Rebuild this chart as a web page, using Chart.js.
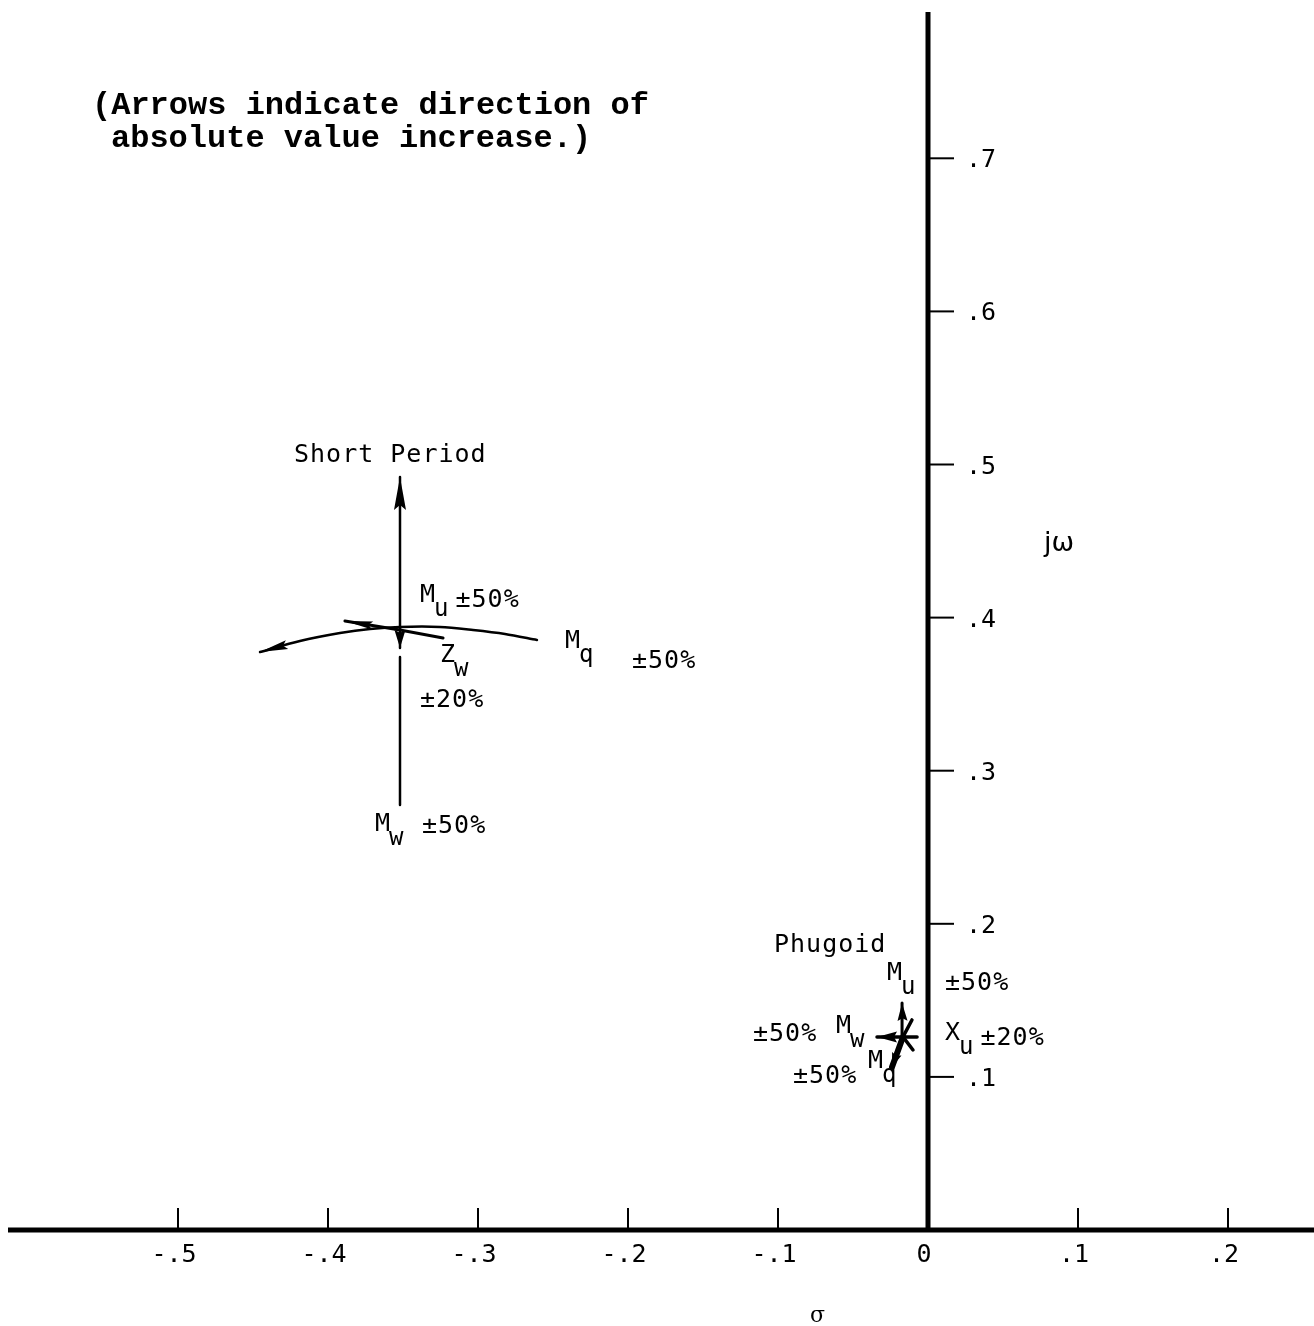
<!DOCTYPE html>
<html>
<head>
<meta charset="utf-8">
<script src="https://cdn.jsdelivr.net/npm/chart.js@4.4.1/dist/chart.umd.min.js"></script>
<style>
  html, body { margin: 0; padding: 0; background: #fff; }
  #wrap { width: 1314px; height: 1326px; position: relative; }
</style>
</head>
<body>
<div id="wrap"><canvas id="chart-1"></canvas></div>
<script>
// Axes (sigma / j omega)
const xTicks = [-0.5, -0.4, -0.3, -0.2, -0.1, 0, 0.1, 0.2];
const xTickLabels = ['-.5', '-.4', '-.3', '-.2', '-.1', '0', '.1', '.2'];
const yTicks = [0.1, 0.2, 0.3, 0.4, 0.5, 0.6, 0.7];
const yTickLabels = ['.1', '.2', '.3', '.4', '.5', '.6', '.7'];

// Short period root loci [sigma, j omega]
const spMu = [[-0.352, 0.3932], [-0.352, 0.4918]];
const spMwHead = [[-0.352, 0.3932], [-0.352, 0.3801]];
const spMw = [[-0.352, 0.3743], [-0.352, 0.2776]];
const spMq = [[-0.2607, 0.3854], [-0.282, 0.3893], [-0.3033, 0.3919], [-0.3253, 0.3939],
              [-0.352, 0.3939], [-0.372, 0.3926], [-0.392, 0.3899], [-0.4187, 0.3847], [-0.4453, 0.3775]];
const spZw = [[-0.3233, 0.3867], [-0.352, 0.3919], [-0.3887, 0.3978]];

// Phugoid root loci
const phMu = [[-0.0167, 0.1261], [-0.0173, 0.1483]];
const phMw = [[-0.0167, 0.1261], [-0.034, 0.1261]];
const phMq = [[-0.0167, 0.1261], [-0.024, 0.1065]];
const phXu = [[-0.0107, 0.1372], [-0.0167, 0.1261], [-0.0100, 0.1176]];
const phXu2 = [[-0.0167, 0.1261], [-0.0073, 0.1261]];

function locus(pts, width, arrow, tension) {
  return {
    data: pts.map(p => ({ x: p[0], y: p[1] })),
    showLine: true,
    borderColor: '#000',
    backgroundColor: '#000',
    borderWidth: width,
    borderCapStyle: 'round',
    pointRadius: 0,
    tension: tension || 0,
    arrow: arrow || null
  };
}

const monoFont = '"DejaVu Sans Mono", monospace';

// texte : [x, y, texte, indice, suite]
const labels = [
  [294, 462, 'Short Period'],
  [420, 602, 'M', 'u', '±50%'],
  [565, 648, 'M', 'q'],
  [632, 668, '±50%'],
  [440, 662, 'Z', 'w'],
  [420, 707, '±20%'],
  [375, 831, 'M', 'w'],
  [422, 833, '±50%'],
  [774, 952, 'Phugoid'],
  [887, 980, 'M', 'u'],
  [945, 990, '±50%'],
  [753, 1041, '±50%'],
  [836, 1033, 'M', 'w'],
  [945, 1040, 'X', 'u', '±20%'],
  [793, 1083, '±50%'],
  [868, 1068, 'M', 'q']
];

const axesPlugin = {
  id: 'axes',
  beforeDatasetsDraw(chart) {
    const { ctx, chartArea, scales: { x, y } } = chart;
    const x0 = x.getPixelForValue(0);
    const y0 = y.getPixelForValue(0);
    ctx.save();
    ctx.strokeStyle = '#000';
    ctx.fillStyle = '#000';
    ctx.lineWidth = 5;
    ctx.beginPath();
    ctx.moveTo(chartArea.left, y0);
    ctx.lineTo(chartArea.right, y0);
    ctx.moveTo(x0, chartArea.top);
    ctx.lineTo(x0, y0);
    ctx.stroke();

    ctx.lineWidth = 2;
    ctx.font = '25px ' + monoFont;
    ctx.textAlign = 'center';
    ctx.textBaseline = 'alphabetic';
    for (let i = 0; i < xTicks.length; i++) {
      const px = x.getPixelForValue(xTicks[i]);
      ctx.beginPath();
      ctx.moveTo(px, y0 - 22);
      ctx.lineTo(px, y0);
      ctx.stroke();
      ctx.fillText(xTickLabels[i], px - 4, y0 + 32);
    }
    ctx.textAlign = 'left';
    for (let i = 0; i < yTicks.length; i++) {
      const py = y.getPixelForValue(yTicks[i]);
      ctx.beginPath();
      ctx.moveTo(x0, py);
      ctx.lineTo(x0 + 26, py);
      ctx.stroke();
      ctx.fillText(yTickLabels[i], x0 + 38, py + 9);
    }
    ctx.restore();
  }
};

const arrowPlugin = {
  id: 'arrows',
  afterDatasetsDraw(chart) {
    const ctx = chart.ctx;
    chart.data.datasets.forEach((ds, i) => {
      if (!ds.arrow) return;
      const pts = chart.getDatasetMeta(i).data;
      const tip = pts[pts.length - 1];
      const prev = pts[pts.length - 2];
      const a = Math.atan2(tip.y - prev.y, tip.x - prev.x);
      const len = ds.arrow[0], w = ds.arrow[1];
      ctx.save();
      ctx.translate(tip.x, tip.y);
      ctx.rotate(a);
      ctx.fillStyle = '#000';
      ctx.beginPath();
      ctx.moveTo(0, 0);
      ctx.lineTo(-len, -w / 2);
      ctx.lineTo(-len * 0.85, 0);
      ctx.lineTo(-len, w / 2);
      ctx.closePath();
      ctx.fill();
      ctx.restore();
    });
  }
};

const textPlugin = {
  id: 'texts',
  afterDraw(chart) {
    const ctx = chart.ctx;
    ctx.save();
    ctx.fillStyle = '#000';
    ctx.textBaseline = 'alphabetic';
    ctx.textAlign = 'left';

    ctx.font = 'bold 32px "Liberation Mono", monospace';
    ctx.fillText('(Arrows indicate direction of', 92, 114);
    ctx.fillText('absolute value increase.)', 111, 147);

    labels.forEach(l => {
      let xx = l[0];
      ctx.font = '25px ' + monoFont;
      ctx.letterSpacing = '1px';
      ctx.fillText(l[2], xx, l[1]);
      xx += ctx.measureText(l[2]).width;
      if (l[3]) {
        ctx.font = '24px ' + monoFont;
        ctx.fillText(l[3], xx - 2, l[1] + 14);
        xx += ctx.measureText(l[3]).width + 4;
      }
      if (l[4]) {
        ctx.font = '25px ' + monoFont;
        ctx.fillText(l[4], xx, l[1] + 5);
      }
    });
    ctx.letterSpacing = '0px';

    ctx.font = '27px "DejaVu Sans", sans-serif';
    ctx.fillText('jω', 1044, 551);
    ctx.font = '22px "DejaVu Serif", serif';
    ctx.fillText('σ', 810, 1322);
    ctx.restore();
  }
};

const ctx = document.getElementById('chart-1');
new Chart(ctx, {
  type: 'scatter',
  data: {
    datasets: [
      locus(spMu, 2.5, [33, 12]),
      locus(spMwHead, 2.5, [18, 11]),
      locus(spMw, 2.5),
      locus(spMq, 2.5, [28, 9], 0.3),
      locus(spZw, 3, [28, 8]),
      locus(phMu, 3, [18, 10]),
      locus(phMw, 3.5, [20, 11]),
      locus(phMq, 6, [14, 10]),
      locus(phXu, 3.5),
      locus(phXu2, 3.5)
    ]
  },
  options: {
    responsive: true,
    maintainAspectRatio: false,
    animation: false,
    layout: { padding: { left: 8, right: 0, top: 12, bottom: 96 } },
    plugins: { legend: { display: false }, tooltip: { enabled: false } },
    scales: {
      x: { type: 'linear', min: -0.61333, max: 0.25733, display: false },
      y: { type: 'linear', min: 0, max: 0.79556, display: false }
    }
  },
  plugins: [axesPlugin, arrowPlugin, textPlugin]
});
</script>
</body>
</html>
